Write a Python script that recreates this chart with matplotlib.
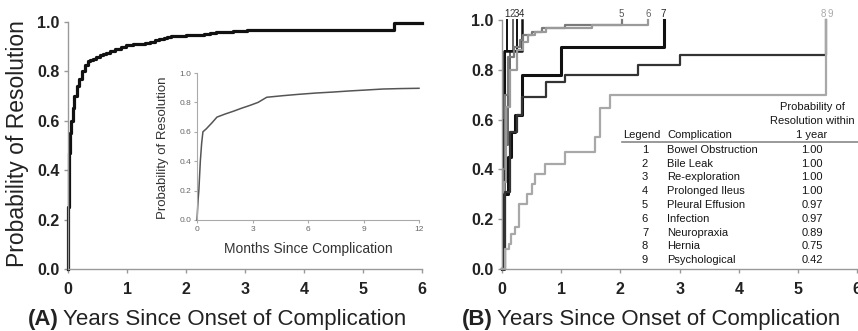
# plot.py
# Time to resolution of complications: overall curve (A) and by complication (B).

import matplotlib
matplotlib.use('Agg')
import matplotlib.pyplot as plt

plt.rcParams['font.family'] = ['Liberation Sans', 'DejaVu Sans']

# Panel A: overall probability of resolution (years)
a_years = [0, 0.003, 0.006, 0.012, 0.02, 0.035, 0.057, 0.08, 0.11, 0.15, 0.19, 0.23,
           0.28, 0.34, 0.38, 0.42, 0.48, 0.54, 0.6, 0.65, 0.72, 0.8, 0.9, 0.99, 1.1,
           1.2, 1.3, 1.39, 1.47, 1.55, 1.62, 1.67, 1.75, 1.85, 2.0, 2.15, 2.3, 2.4,
           2.5, 2.65, 2.8, 2.9, 3.03, 5.46, 5.52, 6.0]
a_prob = [0, 0.12, 0.25, 0.40, 0.47, 0.55, 0.60, 0.65, 0.70, 0.74, 0.77, 0.80,
          0.825, 0.84, 0.845, 0.85, 0.857, 0.865, 0.87, 0.875, 0.882, 0.89, 0.898, 0.906, 0.908,
          0.91, 0.914, 0.919, 0.924, 0.93, 0.935, 0.94, 0.942, 0.944, 0.946, 0.948, 0.95, 0.953,
          0.957, 0.96, 0.962, 0.964, 0.966, 0.966, 0.993, 0.993]

# Inset: first 12 months
inset_months = [0, 0.03, 0.06, 0.1, 0.14, 0.18, 0.25, 0.32, 0.5, 0.8, 1.08, 1.5, 1.97,
                2.4, 2.87, 3.3, 3.77, 4.67, 5.5, 6.46, 7.3, 8.26, 9.1, 10.05, 11.0, 12.0]
inset_prob = [0, 0.07, 0.14, 0.2, 0.3, 0.4, 0.52, 0.6, 0.62, 0.66, 0.70, 0.72, 0.74,
              0.76, 0.78, 0.80, 0.835, 0.846, 0.855, 0.864, 0.87, 0.878, 0.884, 0.891, 0.894, 0.896]

# Panel B: by complication
complications = ['Bowel Obstruction', 'Bile Leak', 'Re-exploration', 'Prolonged Ileus',
                 'Pleural Effusion', 'Infection', 'Neuropraxia', 'Hernia', 'Psychological']
one_year = ['1.00', '1.00', '1.00', '1.00', '0.97', '0.97', '0.89', '0.75', '0.42']

t1 = [0, 0.02, 0.05, 0.09]
p1 = [0, 0.6, 0.875, 1.0]
t2 = [0, 0.05, 0.1, 0.14, 0.18]
p2 = [0, 0.5, 0.75, 0.875, 1.0]
t3 = [0, 0.02, 0.05, 0.25]
p3 = [0, 0.5, 0.875, 1.0]
t4 = [0, 0.02, 0.04, 0.33]
p4 = [0, 0.6, 0.875, 1.0]
t5 = [0, 0.02, 0.05, 0.1, 0.2, 0.3, 0.36, 0.5, 0.67, 1.06, 2.02]
p5 = [0, 0.4, 0.7, 0.85, 0.89, 0.92, 0.94, 0.953, 0.967, 0.98, 1.0]
t6 = [0, 0.03, 0.07, 0.14, 0.25, 0.36, 0.44, 0.55, 0.75, 1.52, 2.47]
p6 = [0, 0.35, 0.65, 0.8, 0.88, 0.913, 0.94, 0.953, 0.967, 0.98, 1.0]
t7 = [0, 0.04, 0.1, 0.16, 0.22, 0.33, 1.0, 2.73]
p7 = [0, 0.3, 0.45, 0.55, 0.62, 0.78, 0.89, 1.0]
t8 = [0, 0.05, 0.13, 0.25, 0.33, 0.74, 1.06, 2.3, 3.0, 5.48]
p8 = [0, 0.31, 0.55, 0.62, 0.69, 0.75, 0.78, 0.82, 0.86, 1.0]
t9 = [0, 0.05, 0.11, 0.16, 0.22, 0.28, 0.42, 0.5, 0.56, 0.73, 1.06, 1.57, 1.66, 1.82, 5.48]
p9 = [0, 0.08, 0.10, 0.14, 0.17, 0.26, 0.30, 0.34, 0.38, 0.42, 0.47, 0.53, 0.645, 0.70, 1.0]

curves = [(t1, p1, '#111111', 1.4), (t2, p2, '#666666', 1.4), (t3, p3, '#111111', 1.4),
          (t4, p4, '#111111', 1.8), (t5, p5, '#7a7a7a', 1.6), (t6, p6, '#9a9a9a', 1.6),
          (t7, p7, '#111111', 2.2), (t8, p8, '#333333', 1.6), (t9, p9, '#a8a8a8', 1.6)]

W, H = 858, 331
fig = plt.figure(figsize=(W / 100, H / 100), dpi=100)

YTOP = 1.05


def rect(x0, x6, y0, y1):
    # pixel positions of x=0, x=6, y=0, y=1 -> axes rectangle
    return [x0 / W, 1 - y0 / H, (x6 - x0) / W, (y0 - y1) * YTOP / H]


def style(ax):
    for s in ['top', 'right']:
        ax.spines[s].set_visible(False)
    for s in ['left', 'bottom']:
        ax.spines[s].set_color('#999999')
        ax.spines[s].set_linewidth(1.0)
    ax.spines['left'].set_bounds(0, 1)
    ax.set_xlim(0, 6)
    ax.set_ylim(0, YTOP)
    ax.set_xticks(range(7))
    ax.set_yticks([0, 0.2, 0.4, 0.6, 0.8, 1.0])
    ax.set_yticklabels(['0.0', '0.2', '0.4', '0.6', '0.8', '1.0'])
    ax.tick_params(length=3, width=1, color='#999999', labelsize=11.5,
                   labelcolor='#222222', pad=3)
    ax.tick_params(axis='x', pad=6)
    for lab in ax.get_xticklabels() + ax.get_yticklabels():
        lab.set_fontweight('bold')
    ax.patch.set_visible(False)


# ---- Panel A ----
axA = fig.add_axes(rect(68, 422, 269, 21.7))
style(axA)
axA.plot(a_years, a_prob, drawstyle='steps-post', color='#111111', lw=2.3, clip_on=False)
fig.text(18 / W, 1 - 144 / H, 'Probability of Resolution', rotation=90, ha='center',
         va='center', fontsize=16.5, color='#222222')

# inset
axI = fig.add_axes([197 / W, 1 - 220 / H, 222 / W, 147 / H])
for s in ['top', 'right']:
    axI.spines[s].set_visible(False)
for s in ['left', 'bottom']:
    axI.spines[s].set_color('#aaaaaa')
    axI.spines[s].set_linewidth(0.8)
axI.set_xlim(0, 12)
axI.set_ylim(0, 1.0)
axI.set_xticks([0, 3, 6, 9, 12])
axI.set_yticks([0, 0.2, 0.4, 0.6, 0.8, 1.0])
axI.set_yticklabels(['0.0', '0.2', '0.4', '0.6', '0.8', '1.0'])
axI.tick_params(length=2, width=0.8, color='#aaaaaa', labelsize=6, labelcolor='#666666', pad=2)
axI.plot(inset_months, inset_prob, color='#555555', lw=1.1, clip_on=False)
axI.patch.set_visible(False)
fig.text(163 / W, 1 - 148 / H, 'Probability of Resolution', rotation=90, ha='center',
         va='center', fontsize=9.5, color='#333333')
fig.text(308 / W, 1 - 249 / H, 'Months Since Complication', ha='center', va='center',
         fontsize=10, color='#333333')

# ---- Panel B ----
axB = fig.add_axes(rect(502, 857.2, 269, 20))
style(axB)
for t, p, c, lw in curves:
    axB.plot(t, p, drawstyle='steps-post', color=c, lw=lw, clip_on=False)

# curve numbers at the end of each curve
end_labels = [('1', 0.09, '#222222'), ('2', 0.18, '#444444'), ('3', 0.25, '#222222'),
              ('4', 0.33, '#222222'), ('5', 2.02, '#555555'), ('6', 2.47, '#666666'),
              ('7', 2.73, '#222222'), ('8', 5.43, '#aaaaaa'), ('9', 5.55, '#aaaaaa')]
for lab, x, c in end_labels:
    axB.text(x, 1.005, lab, ha='center', va='bottom', fontsize=7, color=c)

# table of 1-year resolution
tx = lambda px: px / W
ty = lambda py: 1 - py / H
tab_kw = dict(fontsize=8, color='#151515', va='center')
fig.text(tx(812), ty(106.7), 'Probability of', ha='center', **tab_kw)
fig.text(tx(812), ty(120.7), 'Resolution within', ha='center', **tab_kw)
fig.text(tx(812), ty(135), '1 year', ha='center', **tab_kw)
fig.text(tx(623), ty(135), 'Legend', ha='left', **tab_kw)
fig.text(tx(667), ty(135), 'Complication', ha='left', **tab_kw)
fig.add_artist(plt.Line2D([tx(622), tx(858)], [ty(142), ty(142)], color='#888888', lw=1.2))
for i, (name, val) in enumerate(zip(complications, one_year)):
    y = 150 + i * 13.75
    fig.text(tx(645), ty(y), str(i + 1), ha='center', **tab_kw)
    fig.text(tx(667), ty(y), name, ha='left', **tab_kw)
    fig.text(tx(812), ty(y), val, ha='center', **tab_kw)

# ---- x labels with bold panel letters ----
fig.canvas.draw()
renderer = fig.canvas.get_renderer()
for letter, x_left in [('(A)', 28), ('(B)', 462)]:
    t_letter = fig.text(x_left / W, 1 - 320 / H, letter, ha='left', va='center',
                        fontsize=16, fontweight='bold', color='#222222')
    bb = t_letter.get_window_extent(renderer)
    fig.text((bb.x1 + 4) / W, 1 - 320 / H, 'Years Since Onset of Complication',
             ha='left', va='center', fontsize=16, color='#222222')

fig.savefig('out.png', dpi=100)
